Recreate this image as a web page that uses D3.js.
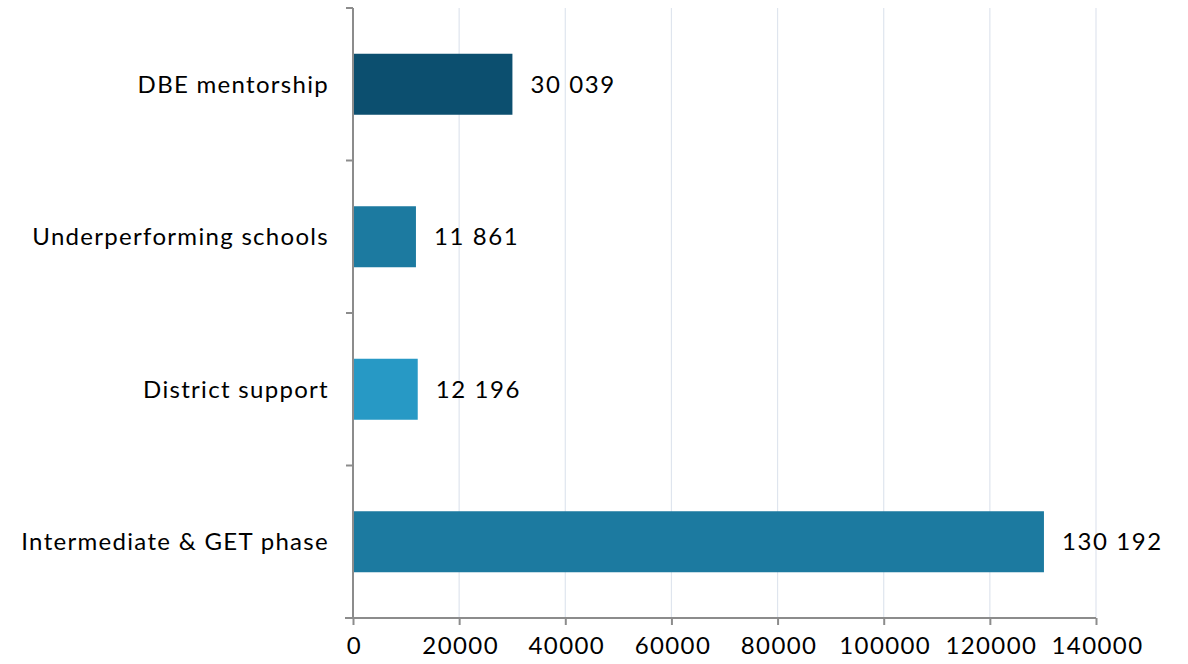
<!DOCTYPE html>
<html>
<head>
<meta charset="utf-8">
<script src="https://cdn.jsdelivr.net/npm/d3@7"></script>
<style>
  body { margin: 0; background: #fff; }
  svg { display: block; font-family: "Lato", "Noto Sans", sans-serif; }
</style>
</head>
<body>
<svg id="svg1" width="1188" height="664"></svg>
<script>
var categories = ['DBE mentorship', 'Underperforming schools', 'District support', 'Intermediate & GET phase'];
var values = [30039, 11861, 12196, 130192];
var barColors = ['#0c4f6f', '#1c7aa0', '#2799c5', '#1c7aa0'];
var xTicks = [0, 20000, 40000, 60000, 80000, 100000, 120000, 140000];

var marginLeft = 353;
var marginTop = 8;
var plotWidth = 1096 - marginLeft;
var plotHeight = 618 - marginTop;

var svg = d3.select('svg')
    .append('g')
    .attr('transform', 'translate(' + marginLeft + ',' + marginTop + ')');

var x = d3.scaleLinear().domain([0, 140000]).range([0, plotWidth]);
var y = d3.scaleBand().domain(categories).range([0, plotHeight])
    .paddingInner(0.6).paddingOuter(0.3);

var fmt = d3.formatLocale({decimal: '.', thousands: ' ', grouping: [3], currency: ['', '']}).format(',d');

// gridlines
svg.selectAll('.grid')
    .data(xTicks.slice(1))
    .enter()
    .append('line')
    .attr('x1', function(d){ return x(d); })
    .attr('x2', function(d){ return x(d); })
    .attr('y1', 0)
    .attr('y2', plotHeight)
    .attr('stroke', '#dfe5ee')
    .attr('stroke-width', 1.2);

// bars
svg.selectAll('.bar')
    .data(values)
    .enter()
    .append('rect')
    .attr('x', 0)
    .attr('y', function(d, i){ return y(categories[i]); })
    .attr('width', function(d){ return x(d); })
    .attr('height', y.bandwidth())
    .attr('fill', function(d, i){ return barColors[i]; });

// value labels
svg.selectAll('.val')
    .data(values)
    .enter()
    .append('text')
    .attr('x', function(d){ return x(d) + 18; })
    .attr('y', function(d, i){ return y(categories[i]) + y.bandwidth() / 2; })
    .attr('dy', '0.35em')
    .attr('font-size', 24)
    .attr('letter-spacing', 1.6)
    .attr('fill', '#000')
    .text(function(d){ return fmt(d); });

// x axis
var xAxis = svg.append('g')
    .attr('transform', 'translate(0,' + plotHeight + ')')
    .call(d3.axisBottom(x).tickValues(xTicks).tickFormat(d3.format('d')).tickSize(7).tickSizeOuter(0));
xAxis.select('.domain').attr('stroke', '#8c8c8c').attr('stroke-width', 2)
    .attr('d', 'M-8,0H' + plotWidth);
xAxis.selectAll('.tick line').attr('stroke', '#8c8c8c').attr('stroke-width', 2);
xAxis.selectAll('.tick text').attr('font-size', 24).attr('fill', '#000')
    .attr('font-family', '"Lato", "Noto Sans", sans-serif')
    .attr('letter-spacing', 1.4).attr('dx', 1)
    .attr('dy', '1.1em');

// y axis
var yAxis = svg.append('g');
yAxis.append('line')
    .attr('x1', 0).attr('x2', 0).attr('y1', 0).attr('y2', plotHeight)
    .attr('stroke', '#8c8c8c').attr('stroke-width', 2);
var step = y.step();
var boundaries = d3.range(categories.length).map(function(i){ return y(categories[i]) - y.paddingInner() * step / 2; });
yAxis.selectAll('.ytick')
    .data(boundaries)
    .enter()
    .append('line')
    .attr('x1', -7).attr('x2', 0)
    .attr('y1', function(d){ return d; })
    .attr('y2', function(d){ return d; })
    .attr('stroke', '#8c8c8c').attr('stroke-width', 2);

yAxis.selectAll('.ylab')
    .data(categories)
    .enter()
    .append('text')
    .attr('x', -24)
    .attr('y', function(d){ return y(d) + y.bandwidth() / 2; })
    .attr('dy', '0.35em')
    .attr('text-anchor', 'end')
    .attr('font-size', 24)
    .attr('letter-spacing', 1.3)
    .attr('fill', '#000')
    .text(function(d){ return d; });
</script>
</body>
</html>
